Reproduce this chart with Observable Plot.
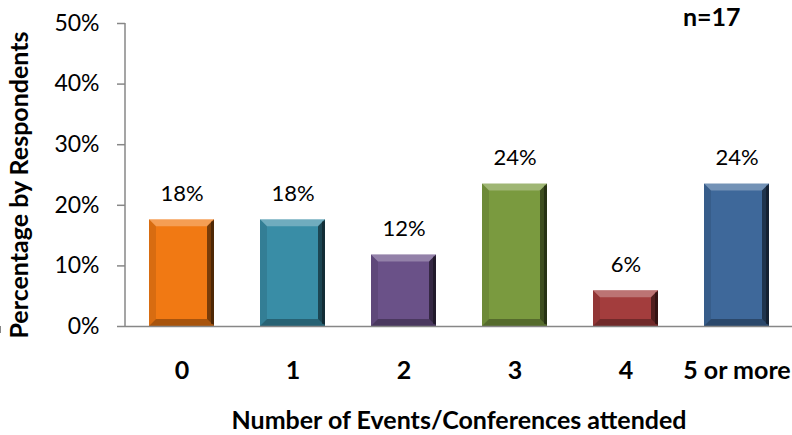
<!DOCTYPE html>
<html>
<head>
<meta charset="utf-8">
<script src="https://cdn.jsdelivr.net/npm/d3@7"></script>
<script src="https://cdn.jsdelivr.net/npm/@observablehq/plot@0.6"></script>
<style>
  html, body { margin: 0; padding: 0; background: #fff; }
  #chart svg { display: block; }
</style>
</head>
<body>
<div id="chart"></div>
<script>
const categories = ["0", "1", "2", "3", "4", "5 or more"];
const percents = [17.6, 17.6, 11.8, 23.5, 5.9, 23.5];
const valueLabels = ["18%", "18%", "12%", "24%", "6%", "24%"];
const yTicks = [0, 10, 20, 30, 40, 50];
const barColors = ["#F17913", "#398DA6", "#6A5188", "#7A9A3F", "#A33D3D", "#3E689A"];

const data = categories.map((c, i) => ({cat: c, value: percents[i], label: valueLabels[i], color: barColors[i]}));

const FONT = "Lato, 'Open Sans', sans-serif";
const axisColor = "#878787";
const BOLD = 25;

function bevel(index, scales, values, dimensions, context, next) {
  const g = next(index, scales, values, dimensions, context);
  const ns = "http://www.w3.org/2000/svg";
  const rects = Array.from(g.querySelectorAll("rect"));
  const b = 7;
  for (const r of rects) {
    const x = +r.getAttribute("x"), y = +r.getAttribute("y");
    const w = +r.getAttribute("width"), h = +r.getAttribute("height");
    const polys = [
      {pts: [[x,y],[x+w,y],[x+w-b,y+b],[x+b,y+b]], fill: "#fff", op: 0.28},
      {pts: [[x+w,y],[x+w,y+h],[x+w-b,y+h-b],[x+w-b,y+b]], fill: "#000", op: 0.5},
      {pts: [[x,y+h],[x+w,y+h],[x+w-b,y+h-b],[x+b,y+h-b]], fill: "#000", op: 0.3},
      {pts: [[x,y],[x,y+h],[x+b,y+h-b],[x+b,y+b]], fill: "#000", op: 0.1}
    ];
    for (const p of polys) {
      const el = document.createElementNS(ns, "polygon");
      el.setAttribute("points", p.pts.map(d => d.join(",")).join(" "));
      el.setAttribute("fill", p.fill);
      el.setAttribute("fill-opacity", p.op);
      g.appendChild(el);
    }
    const edge = document.createElementNS(ns, "rect");
    edge.setAttribute("x", x + w - 3);
    edge.setAttribute("y", y + 2);
    edge.setAttribute("width", 3);
    edge.setAttribute("height", Math.max(0, h - 4));
    edge.setAttribute("fill", "#000");
    edge.setAttribute("fill-opacity", 0.35);
    g.appendChild(edge);
  }
  return g;
}

function axisLines(index, scales, values, dimensions) {
  const ns = "http://www.w3.org/2000/svg";
  const g = document.createElementNS(ns, "g");
  const x = scales.x;
  const step = x.step ? x.step() : x.bandwidth;
  const y0 = scales.y(0);
  const yTop = scales.y(50);
  const left = dimensions.marginLeft;
  const add = (x1, y1, x2, y2) => {
    const l = document.createElementNS(ns, "line");
    l.setAttribute("x1", x1); l.setAttribute("x2", x2);
    l.setAttribute("y1", y1); l.setAttribute("y2", y2);
    l.setAttribute("stroke", axisColor);
    l.setAttribute("stroke-width", 1.5);
    g.appendChild(l);
  };
  add(left, yTop, left, y0);
  const starts = categories.map(c => x(c) - (step - x.bandwidth) / 2);
  starts.push(starts[starts.length - 1] + step);
  for (const s of starts) add(s, y0, s, y0 + 7);
  return g;
}

const chart = Plot.plot({
  width: 792,
  height: 435,
  marginLeft: 125,
  marginRight: 0,
  marginTop: 23,
  marginBottom: 109,
  style: {fontFamily: FONT, fontSize: "22px", color: "#000", background: "#fff"},
  x: {domain: categories, paddingInner: 0.415, paddingOuter: 0.2075, label: null},
  y: {domain: [0, 50], label: null},
  marks: [
    Plot.barY(data, {x: "cat", y: "value", fill: "color", render: bevel}),
    Plot.ruleY([0], {stroke: axisColor, strokeWidth: 1.5}),
    axisLines,
    Plot.axisY({ticks: yTicks, tickFormat: d => d + "%", tickSize: 8, tickPadding: 18, stroke: axisColor, strokeWidth: 1.5, label: null, fontSize: 23}),
    Plot.axisX({tickSize: 0, tickPadding: 35, fontWeight: "bold", fontSize: BOLD, label: null}),
    Plot.text(data, {x: "cat", y: "value", text: "label", lineAnchor: "bottom", dy: -19, fontSize: 22, fill: "#000"}),
    Plot.text(["n=17"], {frameAnchor: "top-right", textAnchor: "end", lineAnchor: "middle", dx: -52, dy: -6, fontWeight: "bold", fontSize: BOLD, fill: "#000"}),
    Plot.text(["Percentage by Respondents"], {frameAnchor: "left", textAnchor: "middle", rotate: -90, dx: -106, dy: 10, fontWeight: "bold", fontSize: BOLD, fill: "#000"}),
    Plot.text(["Number of Events/Conferences attended"], {frameAnchor: "bottom", textAnchor: "middle", lineAnchor: "middle", dy: 94, fontWeight: "bold", fontSize: BOLD, fill: "#000"})
  ]
});
document.getElementById("chart").appendChild(chart);
</script>
</body>
</html>
